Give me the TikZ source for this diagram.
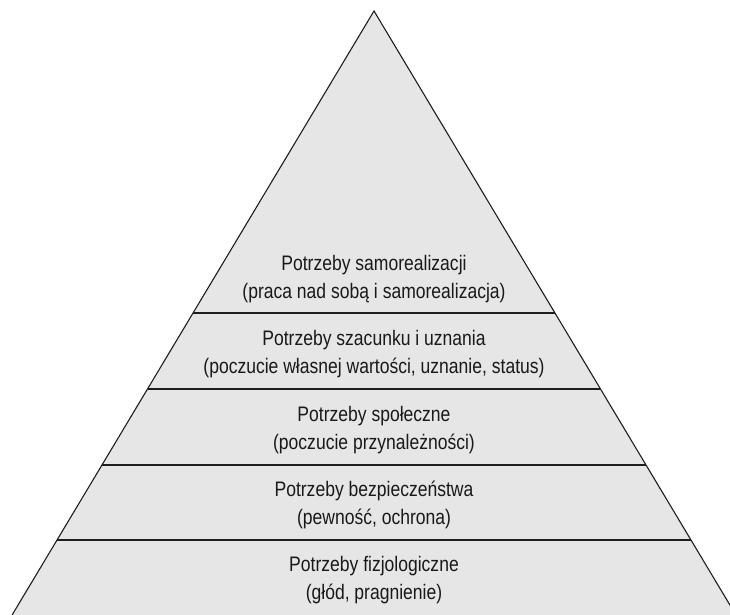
\documentclass[tikz,border=0pt]{standalone}
\usepackage{fontspec}
\setmainfont{Liberation Sans}[FakeStretch=0.835]
\usetikzlibrary{calc}
\definecolor{bandfill}{HTML}{E6E6E6}
\definecolor{edge}{HTML}{1E1E1E}
\tikzset{
  lvl/.style={align=center, font=\fontsize{21pt}{28pt}\selectfont, text=black!90, inner sep=0pt},
  sep/.style={draw=edge, line width=1.1pt},
}
\begin{document}
\begin{tikzpicture}[x=1pt,y=1pt]
\useasboundingbox (0,0) rectangle (730,615);
\clip (0,0) rectangle (730,615);
\coordinate (A) at (374,604);
\coordinate (BL) at (12.1,0);
\coordinate (BR) at (735.9,0);
\fill[bandfill] (A) -- (BL) -- (BR) -- cycle;
\draw[sep, line join=miter] (BL) -- (A) -- (BR);
\foreach \t/\n in {0.5/1,0.6258/2,0.7517/3,0.8758/4}{
  \draw[sep] ($(A)!\t!(BL)$) -- ($(A)!\t!(BR)$);
}
\node[lvl] (l5) at (374,336) {Potrzeby samorealizacji\\(praca nad sobą i samorealizacja)};
\node[lvl] (l4) at (374,261) {Potrzeby szacunku i uznania\\(poczucie własnej wartości, uznanie, status)};
\node[lvl] (l3) at (374,185) {Potrzeby społeczne\\(poczucie przynależności)};
\node[lvl] (l2) at (374,110.5) {Potrzeby bezpieczeństwa\\(pewność, ochrona)};
\node[lvl] (l1) at (374,35) {Potrzeby fizjologiczne\\(głód, pragnienie)};
\end{tikzpicture}
\end{document}
